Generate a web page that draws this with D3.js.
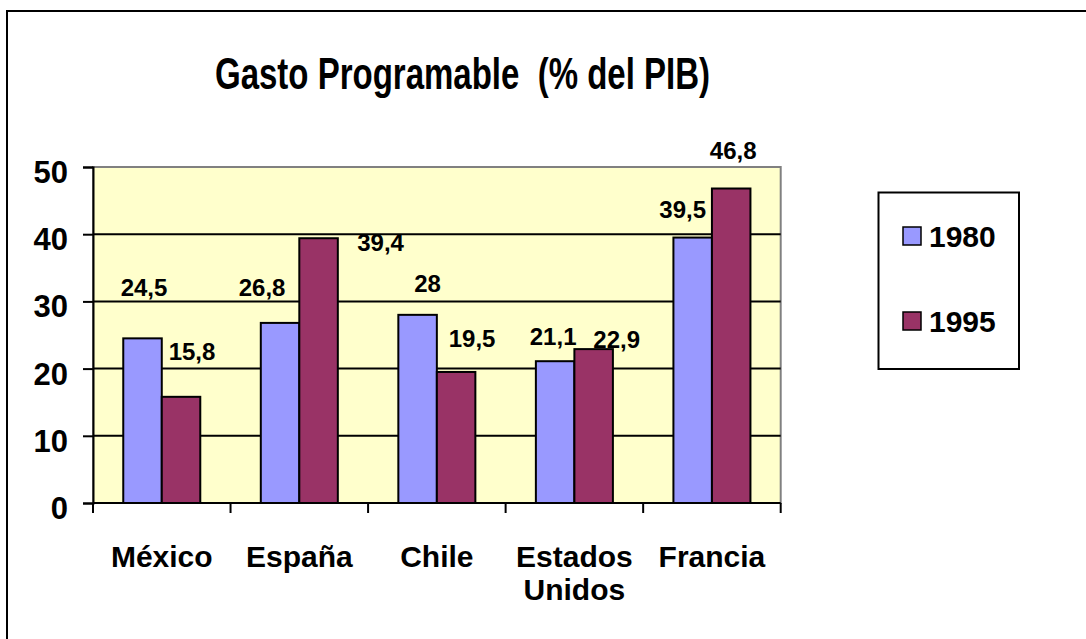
<!DOCTYPE html>
<html>
<head>
<meta charset="utf-8">
<script src="https://cdn.jsdelivr.net/npm/d3@7"></script>
<style>
  html, body { margin: 0; padding: 0; background: #fff; overflow: hidden; }
  svg { display: block; font-family: "Liberation Sans", Arial, sans-serif; font-weight: bold; }
</style>
</head>
<body>
<svg id="chart" width="1086" height="639"></svg>
<script>
// ---- data ----
const categories = ["México", "España", "Chile", "Estados Unidos", "Francia"];
const seriesNames = ["1980", "1995"];
const values1980 = [24.5, 26.8, 28, 21.1, 39.5];
const values1995 = [15.8, 39.4, 19.5, 22.9, 46.8];
const labels1980 = ["24,5", "26,8", "28", "21,1", "39,5"];
const labels1995 = ["15,8", "39,4", "19,5", "22,9", "46,8"];
const yTicks = [0, 10, 20, 30, 40, 50];
const titleText = "Gasto Programable  (% del PIB)";

// label placement offsets (manual positions in the original), relative to bar top-centre
const labelDx1980 = [1.5, -18, 10, -2, -10];
const labelDy1980 = [-42, -27, -23, -16, -20];
const labelDx1995 = [11, 62, 16, 23, 2];
const labelDy1995 = [-37, 13, -25, -1, -30];

const colors = ["#9999FF", "#993366"];

const svg = d3.select("#chart");

// outer frame (right/bottom edges fall outside the picture)
svg.append("path").attr("d", "M7,650 V11 H1100")
  .attr("fill", "none").attr("stroke", "#000").attr("stroke-width", 2);

// title
svg.append("text").attr("x", 462.5).attr("y", 89).attr("text-anchor", "middle")
  .style("white-space", "pre")
  .attr("font-size", 44).attr("textLength", 495).attr("lengthAdjust", "spacingAndGlyphs")
  .text(titleText);

const plot = { left: 93, right: 780.7, top: 167, bottom: 503 };

const y = d3.scaleLinear().domain([0, 50]).range([plot.bottom, plot.top]);
const xCat = d3.scaleBand().domain(categories).range([plot.left, plot.right])
  .paddingInner(0.44).paddingOuter(0.22);
const xSub = d3.scaleBand().domain(seriesNames).range([0, xCat.bandwidth()]).padding(0);
const xSlot = d3.scaleBand().domain(categories).range([plot.left, plot.right]).padding(0);

// plot background
svg.append("rect").attr("x", plot.left).attr("y", plot.top)
  .attr("width", plot.right - plot.left).attr("height", plot.bottom - plot.top)
  .attr("fill", "#FFFFCC").attr("stroke", "#808080").attr("stroke-width", 2);

// gridlines
svg.append("g").selectAll("line").data(yTicks.filter(t => t > 0 && t < 50)).join("line")
  .attr("x1", plot.left).attr("x2", plot.right)
  .attr("y1", d => y(d)).attr("y2", d => y(d))
  .attr("stroke", "#000").attr("stroke-width", 2);

// bars
const series = [values1980, values1995];
series.forEach((vals, si) => {
  svg.append("g").selectAll("rect").data(vals).join("rect")
    .attr("x", (d, i) => xCat(categories[i]) + xSub(seriesNames[si]))
    .attr("y", d => y(d))
    .attr("width", xSub.bandwidth())
    .attr("height", d => y(0) - y(d))
    .attr("fill", colors[si]).attr("stroke", "#000").attr("stroke-width", 2);
});

// y axis
const yAxis = d3.axisLeft(y).tickValues(yTicks).tickSize(10).tickPadding(14)
  .tickFormat(d3.format("d"));
const gy = svg.append("g").attr("transform", `translate(${plot.left},0)`).call(yAxis);
gy.select(".domain").attr("stroke", "#000").attr("stroke-width", 2);
gy.selectAll(".tick line").attr("stroke", "#000").attr("stroke-width", 2);
gy.selectAll(".tick text").attr("font-size", 31).attr("font-family", "Liberation Sans, Arial, sans-serif")
  .attr("font-weight", "bold").attr("fill", "#000").attr("dy", "0.5em").attr("x", -25);

// x axis line & ticks at category boundaries
svg.append("line").attr("x1", plot.left).attr("x2", plot.right)
  .attr("y1", plot.bottom).attr("y2", plot.bottom).attr("stroke", "#000").attr("stroke-width", 2);
const boundaries = categories.map(c => xSlot(c)).concat([plot.right]);
svg.append("g").selectAll("line").data(boundaries).join("line")
  .attr("x1", d => d).attr("x2", d => d)
  .attr("y1", plot.bottom).attr("y2", plot.bottom + 10)
  .attr("stroke", "#000").attr("stroke-width", 2);

// category labels
const xl = svg.append("g").selectAll("text").data(categories).join("text")
  .attr("x", d => xSlot(d) + xSlot.bandwidth() / 2)
  .attr("y", 567).attr("text-anchor", "middle").attr("font-size", 30);
xl.each(function(d) {
  const words = d === "Estados Unidos" ? ["Estados", "Unidos"] : [d];
  const t = d3.select(this);
  words.forEach((w, i) => {
    t.append("tspan").attr("x", xSlot(d) + xSlot.bandwidth() / 2)
      .attr("dy", i === 0 ? 0 : 33).text(w);
  });
});

// data labels
const allLabels = [labels1980, labels1995];
const allDx = [labelDx1980, labelDx1995];
const allDy = [labelDy1980, labelDy1995];
series.forEach((vals, si) => {
  svg.append("g").selectAll("text").data(vals).join("text")
    .attr("x", (d, i) => xCat(categories[i]) + xSub(seriesNames[si]) + xSub.bandwidth() / 2 + allDx[si][i])
    .attr("y", (d, i) => y(d) + allDy[si][i])
    .attr("text-anchor", "middle").attr("font-size", 24)
    .text((d, i) => allLabels[si][i]);
});

// legend
const lg = svg.append("g");
lg.append("rect").attr("x", 878.5).attr("y", 192.5).attr("width", 140.5).attr("height", 176.5)
  .attr("fill", "#fff").attr("stroke", "#000").attr("stroke-width", 2);
const legendY = d3.scalePoint().domain(seriesNames).range([236, 321]);
seriesNames.forEach((s, i) => {
  lg.append("rect").attr("x", 903).attr("y", legendY(s) - 9).attr("width", 18).attr("height", 18)
    .attr("fill", colors[i]).attr("stroke", "#000").attr("stroke-width", 1.5);
  lg.append("text").attr("x", 929).attr("y", legendY(s) + 11).attr("font-size", 30).text(s);
});
</script>
</body>
</html>
